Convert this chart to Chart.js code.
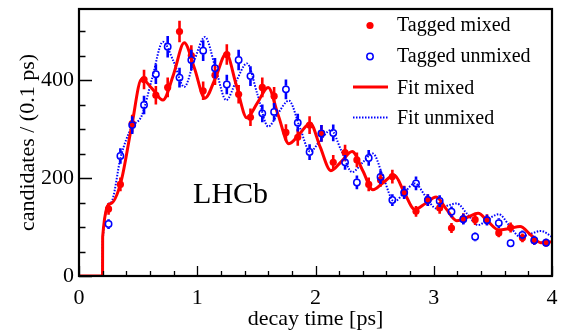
<!DOCTYPE html>
<html><head><meta charset="utf-8">
<script src="https://cdn.jsdelivr.net/npm/chart.js@4/dist/chart.umd.min.js"></script>
<style>html,body{margin:0;padding:0;background:#fff;}canvas{display:block;}</style>
</head><body>
<canvas id="c" width="561" height="333"></canvas>
<script>
// ---- data ----
const binCenters = [0.25,0.35,0.45,0.55,0.65,0.75,0.85,0.95,1.05,1.15,1.25,1.35,1.45,1.55,1.65,1.75,1.85,1.95,2.05,2.15,2.25,2.35,2.45,2.55,2.65,2.75,2.85,2.95,3.05,3.15,3.25,3.35,3.45,3.55,3.65,3.75,3.85,3.95];
const mixedCounts = [137,187,311,401,369,385,499,450,378,410,452,371,324,385,367,293,283,308,291,232,252,237,187,196,203,171,132,155,139,98,117,115,115,88,99,78,72,68];
const mixedErrors = [12,14,18,20,19,20,22,21,19,20,21,19,18,20,19,17,17,18,17,15,16,15,14,14,14,13,11,12,12,10,11,11,11,9,10,9,8,8];
const unmixedCounts = [106,245,308,349,412,468,405,441,460,424,391,441,408,332,335,381,313,253,291,292,232,191,241,202,155,170,189,155,153,131,116,80,114,108,67,84,73,68];
const unmixedErrors = [10,16,18,19,20,22,20,21,21,21,20,21,20,18,18,20,18,16,17,17,15,14,16,14,12,13,14,12,12,11,11,9,11,10,8,9,9,8];
const fitTimes = [0,0.199,0.2,0.27,0.355,0.445,0.53,0.62,0.71,0.8,0.89,0.975,1.065,1.155,1.245,1.33,1.42,1.51,1.6,1.685,1.775,1.865,1.955,2.04,2.13,2.22,2.31,2.4,2.485,2.575,2.665,2.75,2.84,2.93,3.02,3.105,3.195,3.285,3.375,3.46,3.55,3.64,3.73,3.82,3.905,4.0];
const fitMixed = [0,0,80,148,192,305,402,382,359,412,476,425,363,405,454,390,323,354,385,328,270,290,312,263,215,234,254,215,176,191,206,171,136,148,161,137,113,120,128,111,94,97,101,84,68,70];
const fitUnmixed = [0,0,70,150,245,303,327,405,478,438,386,440,488,424,359,398,434,370,305,333,358,305,254,277,298,255,212,232,250,200,152,170,189,163,138,143,148,126,104,116,126,103,80,86,92,80];
const xTickValues = [0,1,2,3,4];
const yTickValues = [0,200,400];
const seriesLabels = ['Tagged mixed','Tagged unmixed','Fit mixed','Fit unmixed'];
const xTitle = 'decay time [ps]';
const yTitle = 'candidates / (0.1 ps)';
const experimentLabel = 'LHCb';

const SERIF = '"Liberation Serif","Times New Roman",serif';
const RED = '#ff0000', BLUE = '#0000ff';

const pts = (xs, ys) => xs.map((x,i)=>({x:x, y:ys[i]}));

const errorBars = {
  id:'errorBars',
  beforeDatasetDraw(chart, args){
    const ds = chart.data.datasets[args.index];
    if(!ds.errors) return;
    const ys = chart.scales.y, ctx = chart.ctx;
    ctx.save();
    ctx.strokeStyle = ds.errColor; ctx.lineWidth = 2.6; ctx.lineCap = 'butt';
    ctx.beginPath();
    args.meta.data.forEach((p,i)=>{
      const v = ds.data[i].y, e = ds.errors[i];
      const yt = ys.getPixelForValue(v+e), yb = ys.getPixelForValue(v-e);
      const g = ds.errGap;
      if(p.y-g > yt){ctx.moveTo(p.x,yt);ctx.lineTo(p.x,p.y-g);}
      if(p.y+g < yb){ctx.moveTo(p.x,p.y+g);ctx.lineTo(p.x,yb);}
    });
    ctx.stroke(); ctx.restore();
  }
};

const frameAndTicks = {
  id:'frameAndTicks',
  afterDraw(chart){
    const {ctx, chartArea:a, scales:{x, y}} = chart;
    ctx.save();
    ctx.strokeStyle = '#000'; ctx.lineWidth = 1.3;
    ctx.beginPath();
    for(let k=0;k<=20;k++){
      const v = k*0.2, px = Math.round(x.getPixelForValue(v))+0.5;
      const len = (k%5===0)?10:5;
      ctx.moveTo(px,a.bottom); ctx.lineTo(px,a.bottom-len);
    }
    for(let k=0;k<=10;k++){
      const v = k*50, py = Math.round(y.getPixelForValue(v))+0.5;
      if(py < a.top) continue;
      const len = (k%4===0)?13:6.5;
      ctx.moveTo(a.left,py); ctx.lineTo(a.left+len,py);
    }
    ctx.stroke();
    ctx.lineWidth = 2.2;
    ctx.strokeRect(a.left, a.top, a.right-a.left, a.bottom-a.top);
    // experiment label
    ctx.fillStyle = '#000';
    ctx.font = '30px ' + SERIF;
    ctx.textBaseline = 'alphabetic'; ctx.textAlign = 'left';
    ctx.fillText(experimentLabel, x.getPixelForValue(0.965), y.getPixelForValue(149));
    // legend
    const lx = a.right - 199, tx = a.right - 155;
    ctx.font = '20px ' + SERIF;
    const ds = chart.data.datasets;
    const rows = [31, 62, 94, 124];
    ctx.fillStyle = RED; ctx.beginPath(); ctx.arc(lx+17, 25.5, 3.6, 0, Math.PI*2); ctx.fill();
    ctx.strokeStyle = BLUE; ctx.lineWidth = 1.5; ctx.beginPath(); ctx.arc(lx+17, 56.5, 3.2, 0, Math.PI*2); ctx.stroke();
    ctx.strokeStyle = RED; ctx.lineWidth = 3; ctx.beginPath(); ctx.moveTo(lx, 87); ctx.lineTo(lx+35, 87); ctx.stroke();
    ctx.strokeStyle = BLUE; ctx.lineWidth = 2; ctx.setLineDash([1.5,1.5]); ctx.beginPath(); ctx.moveTo(lx, 117.5); ctx.lineTo(lx+35, 117.5); ctx.stroke();
    ctx.setLineDash([]);
    ctx.fillStyle = '#000';
    ds.forEach((d)=>{ ctx.fillText(d.label, tx, rows[d.legendRow]); });
    ctx.restore();
  }
};

new Chart(document.getElementById('c'), {
  type:'scatter',
  data:{ datasets:[
    {label:seriesLabels[0], legendRow:0, data:pts(binCenters,mixedCounts), errors:mixedErrors, errColor:RED, errGap:0,
     pointRadius:3.6, pointBackgroundColor:RED, pointBorderColor:RED, pointBorderWidth:0, showLine:false, order:1},
    {label:seriesLabels[1], legendRow:1, data:pts(binCenters,unmixedCounts), errors:unmixedErrors, errColor:BLUE, errGap:3.6,
     pointRadius:3.2, pointBackgroundColor:'rgba(0,0,0,0)', pointBorderColor:BLUE, pointBorderWidth:1.5, showLine:false, order:0},
    {label:seriesLabels[2], legendRow:2, data:pts(fitTimes,fitMixed), showLine:true, pointRadius:0, borderColor:RED, borderWidth:3,
     cubicInterpolationMode:'monotone', order:2},
    {label:seriesLabels[3], legendRow:3, data:pts(fitTimes,fitUnmixed), showLine:true, pointRadius:0, borderColor:BLUE, borderWidth:2,
     borderDash:[1.5,1.5], cubicInterpolationMode:'monotone', order:3}
  ]},
  options:{
    responsive:false, animation:false, devicePixelRatio:1,
    layout:{padding:{top:9, right:9, left:0, bottom:0}},
    plugins:{legend:{display:false}, tooltip:{enabled:false}},
    scales:{
      x:{type:'linear', min:0, max:4,
         afterFit(s){ s.height = 57; s.paddingLeft = 0; s.paddingRight = 0; },
         afterBuildTicks(s){ s.ticks = xTickValues.map(v=>({value:v})); },
         ticks:{color:'#000', font:{family:SERIF, size:22}, padding:9, maxRotation:0, autoSkip:false},
         grid:{display:false, drawTicks:false}, border:{display:false},
         title:{display:true, text:xTitle, color:'#000', font:{family:SERIF, size:22}, padding:{top:0,bottom:1}}},
      y:{type:'linear', min:0, max:545,
         afterFit(s){ s.width = 79; s.paddingTop = 0; s.paddingBottom = 0; },
         afterBuildTicks(s){ s.ticks = yTickValues.map(v=>({value:v})); },
         ticks:{color:'#000', font:{family:SERIF, size:22}, padding:5, autoSkip:false},
         grid:{display:false, drawTicks:false}, border:{display:false},
         title:{display:true, text:yTitle, color:'#000', font:{family:SERIF, size:22}, padding:{top:15,bottom:0}}}
    }
  },
  plugins:[errorBars, frameAndTicks]
});
</script>
</body></html>
